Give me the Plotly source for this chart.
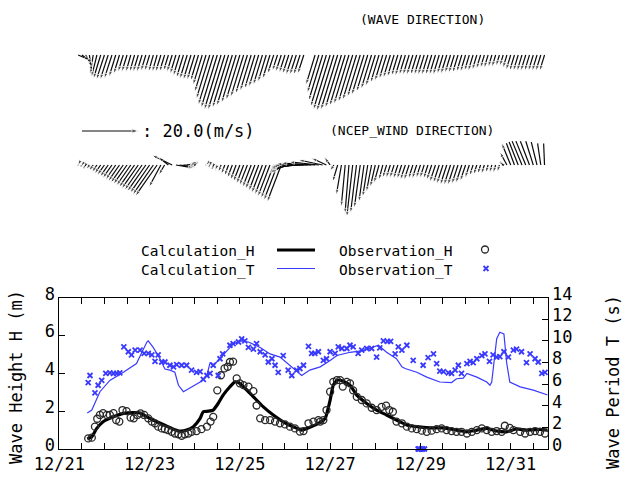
import numpy as np
import pandas as pd
import plotly.graph_objects as go

nan = float("nan")

# ---------------------------------------------------------------- data
# time is given in days since 12/21 00:00
BASE = pd.Timestamp("2006-12-21 00:00")

calc_h_day = [0.62, 0.72, 0.83, 0.97, 1.20, 1.42, 1.64, 1.79, 1.94, 2.16, 2.38, 2.53, 2.67, 2.82,
              2.97, 3.12, 3.19, 3.30, 3.41, 3.52, 3.63, 3.78, 3.89, 3.97, 4.08, 4.30, 4.52, 4.74,
              4.96, 5.18, 5.37, 5.55, 5.78, 5.89, 6.00, 6.07, 6.16, 6.29, 6.44, 6.59, 6.81, 7.03,
              7.25, 7.47, 7.70, 7.92, 8.21, 8.51, 8.80, 9.03, 9.25, 9.47, 9.69, 9.91, 10.13, 10.35,
              10.65, 10.82]
calc_h = [0.53, 0.65, 1.09, 1.44, 1.70, 1.88, 1.92, 1.90, 1.70, 1.44, 1.21, 1.05, 0.95, 1.00,
          1.18, 1.62, 1.97, 2.00, 2.06, 2.41, 2.85, 3.29, 3.55, 3.52, 3.29, 2.76, 2.23, 1.80,
          1.44, 1.18, 1.00, 1.15, 1.41, 1.62, 2.59, 3.38, 3.64, 3.58, 3.38, 2.85, 2.41, 2.06,
          1.80, 1.53, 1.27, 1.18, 1.12, 1.12, 1.00, 0.91, 1.00, 1.09, 0.95, 0.91, 1.06, 1.00,
          1.04, 1.00]

obs_h_day = [0.64, 0.72, 0.79, 0.84, 0.90, 0.97, 1.05, 1.12, 1.20, 1.26, 1.33, 1.40, 1.49, 1.58,
             1.65, 1.73, 1.80, 1.88, 1.97, 2.05, 2.12, 2.19, 2.27, 2.34, 2.41, 2.49, 2.56, 2.64,
             2.71, 2.78, 2.86, 2.93, 3.04, 3.15, 3.27, 3.35, 3.41, 3.50, 3.58, 3.66, 3.73, 3.78,
             3.85, 3.93, 4.00, 4.08, 4.19, 4.30, 4.37, 4.45, 4.56, 4.67, 4.78, 4.89, 5.00, 5.11,
             5.22, 5.33, 5.41, 5.52, 5.63, 5.74, 5.78, 5.85, 5.92, 6.00, 6.07, 6.15, 6.22, 6.28,
             6.37, 6.44, 6.51, 6.59, 6.70, 6.81, 6.92, 7.03, 7.14, 7.24, 7.31, 7.39, 7.47, 7.59,
             7.70, 7.81, 7.92, 8.03, 8.14, 8.25, 8.36, 8.47, 8.58, 8.69, 8.80, 8.91, 9.03, 9.14,
             9.25, 9.36, 9.47, 9.58, 9.69, 9.80, 9.87, 9.98, 10.06, 10.21, 10.32, 10.43, 10.54,
             10.65, 10.76, 10.83]
obs_h = [0.56, 0.60, 1.18, 1.60, 1.80, 1.90, 1.80, 1.80, 1.90, 1.53, 1.45, 2.06, 2.00, 1.66,
         1.62, 1.80, 1.88, 1.80, 1.62, 1.45, 1.36, 1.18, 1.09, 1.05, 1.00, 0.91, 0.82, 0.78,
         0.70, 0.78, 0.82, 0.91, 0.95, 1.05, 1.18, 1.45, 1.70, 3.10, 3.90, 4.26, 4.35, 4.60,
         4.62, 3.73, 3.47, 3.38, 3.30, 3.06, 2.30, 1.62, 1.53, 1.53, 1.45, 1.36, 1.30, 1.18,
         1.09, 0.92, 0.95, 1.36, 1.45, 1.53, 1.45, 1.53, 2.06, 3.03, 3.55, 3.64, 3.64, 3.30,
         3.55, 3.47, 3.10, 2.76, 2.59, 2.41, 2.18, 2.06, 2.23, 2.29, 2.06, 1.97, 1.45, 1.36,
         1.18, 1.09, 1.05, 0.97, 0.91, 0.97, 1.05, 1.09, 1.00, 0.95, 0.91, 0.91, 0.82, 0.91,
         1.00, 1.09, 1.00, 0.91, 0.95, 0.91, 1.23, 1.12, 1.00, 0.91, 0.82, 0.91, 0.95,
         0.91, 0.82, 0.65]

calc_t_day = [0.62, 0.72, 0.90, 1.12, 1.42, 1.71, 1.94, 1.97, 2.08, 2.23, 2.34, 2.45, 2.56, 2.64,
              2.75, 2.93, 3.12, 3.27, 3.34, 3.41, 3.56, 3.71, 3.85, 4.00, 4.19, 4.45, 4.67, 4.89,
              5.11, 5.37, 5.55, 5.78, 6.00, 6.15, 6.44, 6.73, 7.07, 7.25, 7.47, 7.59, 7.66, 7.92,
              8.14, 8.43, 8.69, 8.80, 8.95, 9.03, 9.25, 9.47, 9.54, 9.58, 9.69, 9.76, 9.85, 9.91,
              9.98, 10.21, 10.50, 10.82]
calc_t = [3.34, 3.60, 5.30, 6.35, 7.10, 7.90, 9.90, 10.00, 9.40, 8.35, 7.40, 7.30, 7.10, 5.90,
          5.30, 5.70, 6.20, 6.80, 8.00, 7.70, 8.35, 9.10, 9.70, 10.00, 9.90, 9.40, 8.80, 8.50,
          7.70, 6.80, 7.30, 7.60, 8.20, 8.65, 8.95, 9.10, 9.60, 8.95, 8.35, 7.60, 7.45, 7.10,
          6.65, 6.20, 6.15, 6.50, 6.55, 7.00, 6.65, 6.20, 5.90, 6.20, 10.20, 10.80, 10.65, 8.00,
          6.20, 5.75, 5.45, 5.00]

obs_t_day = [0.64, 0.68, 0.79, 0.86, 0.94, 1.03, 1.12, 1.20, 1.27, 1.34, 1.43, 1.53, 1.60, 1.68,
             1.79, 1.88, 1.97, 2.05, 2.12, 2.19, 2.27, 2.34, 2.45, 2.53, 2.60, 2.71, 2.82, 2.93,
             3.04, 3.12, 3.19, 3.27, 3.34, 3.41, 3.52, 3.56, 3.62, 3.78, 3.85, 3.97, 4.04, 4.11,
             4.19, 4.30, 4.37, 4.45, 4.56, 4.63, 4.71, 4.78, 4.85, 4.96, 5.07, 5.15, 5.26, 5.33,
             5.41, 5.52, 5.59, 5.66, 5.74, 5.85, 5.92, 6.00, 6.11, 6.18, 6.26, 6.37, 6.44, 6.51,
             6.62, 6.70, 6.81, 6.92, 7.03, 7.10, 7.18, 7.27, 7.34, 7.44, 7.51, 7.59, 7.70, 7.84,
             7.95, 7.98, 8.02, 8.05, 8.09,
             8.06, 8.17, 8.29, 8.36, 8.43, 8.51, 8.62, 8.69, 8.77, 8.84, 8.91, 9.03, 9.10, 9.17,
             9.25, 9.36, 9.43, 9.53, 9.61, 9.69, 9.76, 9.85, 9.95, 10.06, 10.13, 10.24, 10.35,
             10.43, 10.54, 10.61, 10.69, 10.76]
obs_t = [6.15, 6.80, 5.20, 5.90, 6.35, 7.00, 7.05, 7.00, 7.00, 7.05, 9.45, 9.00, 8.70, 9.15,
         9.15, 8.85, 8.85, 8.70, 8.10, 8.70, 8.05, 8.05, 7.75, 7.60, 7.80, 7.75, 7.75, 7.30,
         7.10, 7.15, 6.45, 6.80, 7.00, 7.75, 6.80, 8.35, 8.80, 9.60, 9.75, 9.90, 10.20, 10.00,
         9.40, 9.25, 9.75, 9.00, 8.70, 8.05, 8.35, 7.75, 7.10, 8.65, 7.30, 6.80, 7.30, 7.45,
         7.75, 9.50, 8.85, 8.85, 9.00, 8.20, 8.35, 9.00, 8.85, 9.45, 9.30, 9.30, 9.60, 9.45,
         8.85, 9.15, 9.30, 9.30, 8.50, 9.35, 10.00, 9.95, 9.95, 8.80, 9.45, 9.15, 9.60, 8.20,
         0.0, 0.0, 0.0, 0.0, 0.0,
         7.75, 8.45, 8.80, 7.90, 7.20, 7.15, 7.05, 7.00, 7.30, 7.75, 7.00, 7.90, 8.10, 8.00,
         8.35, 8.65, 8.80, 8.10, 8.70, 8.50, 8.55, 9.00, 8.50, 9.15, 9.25, 9.00, 8.00,
         8.80, 8.35, 8.05, 7.00, 7.10]

# direction panels: one arrow every 2 hours from 12/21 10:00
ARROW_START = pd.Timestamp("2006-12-21 10:00")
N_ARROWS = 125

# observed wave: height (m) and direction the waves travel toward (deg from north)
wave_h = [0.87, 0.90, 0.93, 1.13, 1.33, 1.53,
          1.67, 1.74, 1.74, 1.67, 1.53, 1.32,
          1.18, 1.18, 1.18, 1.18, 1.18, 1.18, 1.12, 1.12, 1.18, 1.18, 1.18, 1.18, 1.12, 1.18,
          1.32, 1.46, 1.60, 1.67, 1.74, 1.74, 1.81,
          2.09, 2.58, 3.07, 3.49, 3.69, 3.83, 3.83, 3.69, 3.55, 3.35, 3.14, 2.93, 2.72, 2.51,
          2.37, 2.23, 2.09, 1.88, 1.67, 1.32, 1.12,
          1.18, 1.25, 1.32, 1.39, 1.39, 1.39, 1.32,
          nan, nan,
          2.09, 2.65, 3.20, 3.62, 3.83, 3.90, 3.83, 3.69, 3.55, 3.42, 3.28, 3.14, 2.93, 2.79,
          2.58, 2.37, 2.16, 1.95, 1.81, 1.67,
          1.60, 1.53, 1.46, 1.46, 1.39, 1.39, 1.39, 1.39, 1.39, 1.39, 1.39, 1.39, 1.39, 1.39,
          1.32, 1.32, 1.25, 1.25, 1.25, 1.18, 1.18, 1.12, 1.12, 1.05, 0.98, 0.91, 0.91, 0.84,
          0.84, 0.77, 0.77,
          0.91, 1.05, 1.12, 1.12, 1.12, 1.12, 1.12, 1.12, 1.12, 1.12, 1.12]
wave_dir = [113, 126, 150, 172, 188, 194,
            197, 198, 198, 198, 197, 197,
            197, 197, 196, 196, 197, 197, 197, 197, 196, 196, 197, 197, 197, 197,
            197, 197, 197, 197, 197, 197, 197,
            197, 197, 197, 197, 197, 197, 197, 197, 197, 197, 197, 197, 197, 197,
            197, 197, 197, 197, 197, 198, 198,
            198, 198, 198, 198, 198, 198, 198,
            nan, nan,
            197, 197, 197, 197, 197, 197, 197, 197, 197, 197, 197, 197, 197, 197,
            197, 197, 197, 197, 197, 197,
            197, 197, 197, 197, 197, 197, 197, 197, 197, 197, 197, 197, 197, 197,
            197, 197, 197, 197, 197, 197, 197, 197, 197, 197, 197, 197, 197, 197,
            197, 197, 197,
            197, 197, 197, 197, 197, 197, 197, 197, 197, 197, 197]

# NCEP wind components (m/s): u toward east, v toward north
wind_u = [-0.1, -0.4, -0.7, -1.1, -1.5, -1.8, -2.2, -2.6, -2.9, -3.3, -3.6, -4.0, -4.4, -4.8,
          -5.1, -5.5, -5.9, -6.2, -6.6, -6.9, -7.3, -7.7,
          -4.2, -2.1, -3.5, -7.1, 6.4, 5.7, 4.6, 3.5, 2.5, 1.1,
          nan, nan,
          -0.1, -0.3, -0.5, -0.8, -1.0, -1.3, -1.5, -1.8, -2.0, -2.3, -2.5, -2.8, -3.0, -3.3,
          -3.5, -3.8, -4.0, -4.3, -4.5, -4.8, -5.0,
          -5.3, -6.4, -7.8, -9.2, -10.6, -11.3, -12.0, -12.4, -12.0, -10.6, -8.5, -5.3, -2.1,
          -1.4, -1.8, -1.8, -1.4, -1.4, -2.1, -2.1, -2.1, -1.8, -1.8, -1.8, -1.8, -1.8, -1.4, -1.4,
          -1.5, -1.5, -1.6, -1.6, -1.8, -1.8, -1.6, -1.6, -1.5, -1.5, -1.6, -1.8, -2.0, -2.1,
          -2.2, -2.3, -2.3, -2.3, -2.2, -2.1, -1.9, -1.5, -1.3, -1.2, -1.1, -1.1, -0.9, -0.9,
          -0.9, -0.8,
          -1.1, -2.5, -3.2, -3.5, -3.9, -4.2, -4.2, -3.9, -3.2, -2.5, -1.4, -0.4]
wind_v = [-0.2, -0.5, -1.1, -1.6, -2.1, -2.6, -3.1, -3.6, -4.2, -4.7, -5.2, -5.8, -6.3, -6.8,
          -7.3, -7.9, -8.4, -8.9, -9.4, -9.9, -10.5, -11.0,
          -7.8, -3.5, 2.8, 3.5, -1.1, -0.7, 0.0, 0.7, 1.4, 1.1,
          nan, nan,
          -0.1, -0.7, -1.3, -2.0, -2.6, -3.3, -3.9, -4.6, -5.3, -5.9, -6.6, -7.2, -7.9, -8.5,
          -9.2, -9.9, -10.5, -11.2, -11.8, -12.5, -13.1,
          -2.8, -2.1, -1.4, -1.1, -0.7, -0.4, 0.0, 0.4, 0.7, 1.1, 1.8, 2.5, 2.8,
          -2.1, -6.0, -10.6, -14.8, -17.3, -18.4, -17.0, -15.2, -13.1, -11.3, -9.5, -7.8, -6.4,
          -5.3, -4.6,
          -4.6, -4.6, -4.9, -4.9, -5.3, -5.3, -4.9, -4.9, -4.6, -4.6, -4.9, -5.3, -6.0, -6.4,
          -6.7, -7.1, -7.1, -7.1, -6.7, -6.4, -5.7, -4.6, -3.9, -3.5, -3.2, -3.2, -2.8, -2.8,
          -2.8, -2.5,
          1.1, 4.6, 7.8, 9.5, 9.9, 10.2, 10.2, 10.2, 10.2, 9.9, 9.5, 9.5]

KEY_SPEED = 20.0  # reference arrow (m/s)

# ---------------------------------------------------------------- geometry
W, H = 624, 481
PLOT_L, PLOT_R, PLOT_T, PLOT_B = 59.3, 547.7, 297.7, 449.0
X_SPAN_DAYS = 10.82
PX_PER_DAY = (PLOT_R - PLOT_L) / X_SPAN_DAYS
WAVE_PX_PER_M = 15.0
WIND_PX_PER_MS = 2.83
WAVE_BASE, WAVE_TOP, WAVE_BOT = 55.0, 10.0, 125.0
WIND_BASE, WIND_TOP, WIND_BOT = 165.0, 140.0, 235.0

MONO = "DejaVu Sans Mono"
BLUE = "rgb(58,58,255)"
INK = "rgb(10,10,10)"


def fx(px):
    return px / W


def fy(px):
    return 1.0 - px / H


def t(days):
    return [(BASE + pd.Timedelta(days=float(d))).isoformat() for d in days]


X_RANGE = [BASE.isoformat(), (BASE + pd.Timedelta(days=X_SPAN_DAYS)).isoformat()]
arrow_times = pd.date_range(ARROW_START, periods=N_ARROWS, freq="2h")


def quiver(u, v, px_per_unit):
    """Segments from a baseline at y=0, with head markers at the tips."""
    xs, ys, sizes = [], [], []
    for t0, du, dv in zip(arrow_times, u, v):
        if np.isnan(du) or np.isnan(dv):
            continue
        t1 = t0 + pd.Timedelta(days=du * px_per_unit / PX_PER_DAY)
        xs += [t0.isoformat(), t1.isoformat(), None]
        ys += [0.0, dv, None]
        sizes += [0, 6, 0]
    return xs, ys, sizes


fig = go.Figure()

# bottom panel
fig.add_trace(go.Scatter(x=t(calc_h_day), y=calc_h, mode="lines", xaxis="x", yaxis="y",
                         line=dict(color="black", width=3.2, shape="spline", smoothing=0.5)))
fig.add_trace(go.Scatter(x=t(obs_h_day), y=obs_h, mode="markers", xaxis="x", yaxis="y",
                         marker=dict(symbol="circle-open", size=7, color="rgb(40,40,40)",
                                     line=dict(width=1.3)), cliponaxis=False))
fig.add_trace(go.Scatter(x=t(calc_t_day), y=calc_t, mode="lines", xaxis="x", yaxis="y2",
                         line=dict(color=BLUE, width=1.2)))
fig.add_trace(go.Scatter(x=t(obs_t_day), y=obs_t, mode="markers", xaxis="x", yaxis="y2",
                         marker=dict(symbol="x-thin-open", size=5, color=BLUE,
                                     line=dict(width=1.8, color=BLUE)), cliponaxis=False))

# wave direction arrows
wu = [h * np.sin(np.radians(d)) for h, d in zip(wave_h, wave_dir)]
wv = [h * np.cos(np.radians(d)) for h, d in zip(wave_h, wave_dir)]
xs, ys, sz = quiver(wu, wv, WAVE_PX_PER_M)
fig.add_trace(go.Scatter(x=xs, y=ys, mode="lines+markers", xaxis="x2", yaxis="y3",
                         line=dict(color=INK, width=1.2),
                         marker=dict(symbol="arrow", size=sz, angleref="previous", color=INK),
                         cliponaxis=False))

# wind direction arrows
xs, ys, sz = quiver(wind_u, wind_v, WIND_PX_PER_MS)
fig.add_trace(go.Scatter(x=xs, y=ys, mode="lines+markers", xaxis="x3", yaxis="y4",
                         line=dict(color=INK, width=1.2),
                         marker=dict(symbol="arrow", size=sz, angleref="previous", color=INK),
                         cliponaxis=False))

# overlay in pixel units: legend samples and the speed key
key_x0, key_y = 82.0, 131.0
key_len = KEY_SPEED * WIND_PX_PER_MS
fig.add_trace(go.Scatter(x=[key_x0, key_x0 + key_len], y=[key_y, key_y], mode="lines+markers",
                         xaxis="x4", yaxis="y5", line=dict(color=INK, width=1),
                         marker=dict(symbol="arrow", size=[0, 7], angleref="previous",
                                     color=INK),
                         cliponaxis=False))
fig.add_trace(go.Scatter(x=[277, 315], y=[250, 250], mode="lines", xaxis="x4", yaxis="y5",
                         line=dict(color="black", width=3.2)))
fig.add_trace(go.Scatter(x=[277, 315], y=[268.5, 268.5], mode="lines", xaxis="x4", yaxis="y5",
                         line=dict(color=BLUE, width=1.2)))
fig.add_trace(go.Scatter(x=[485], y=[249.5], mode="markers", xaxis="x4", yaxis="y5",
                         marker=dict(symbol="circle-open", size=7, color="rgb(40,40,40)",
                                     line=dict(width=1.3))))
fig.add_trace(go.Scatter(x=[486], y=[268.5], mode="markers", xaxis="x4", yaxis="y5",
                         marker=dict(symbol="x-thin-open", size=5, color=BLUE,
                                     line=dict(width=1.8, color=BLUE))))


def txt(s, x, y, size, anchor="center", angle=0):
    return dict(text=s, x=fx(x), y=fy(y), xref="paper", yref="paper", showarrow=False,
                xanchor=anchor, yanchor="middle", textangle=angle,
                font=dict(family=MONO, size=size, color="black"))


annotations = [
    txt("(WAVE DIRECTION)", 422, 19, 13),
    txt("(NCEP_WIND DIRECTION)", 412, 130, 13),
    txt(": 20.0(m/s)", 140, 131, 17, "left"),
    txt("Calculation_H", 257, 251, 14.5, "right"),
    txt("Observation_H", 455, 251, 14.5, "right"),
    txt("Calculation_T", 257, 270, 14.5, "right"),
    txt("Observation_T", 455, 270, 14.5, "right"),
    txt("Wave Height H (m)", 16, 377, 17, angle=-90),
    txt("Wave Period T (s)", 613, 382, 17, angle=-90),
]

hidden = dict(visible=False, showgrid=False, zeroline=False, automargin=False)
tickstyle = dict(ticks="inside", ticklen=6, tickwidth=1, tickcolor="black", showline=True,
                 linecolor="black", linewidth=1, showgrid=False, zeroline=False,
                 automargin=False, tickfont=dict(family=MONO, size=17, color="black"))

fig.update_layout(
    width=W, height=H, margin=dict(l=0, r=0, t=0, b=0, autoexpand=False),
    paper_bgcolor="white", plot_bgcolor="rgba(0,0,0,0)", showlegend=False,
    font=dict(family=MONO, color="black"),
    xaxis=dict(domain=[fx(PLOT_L), fx(PLOT_R)], anchor="y", type="date", range=X_RANGE,
               tick0=BASE.isoformat(), dtick=2 * 86400000, tickformat="%m/%d", mirror="ticks",
               minor=dict(dtick=43200000, ticks="inside", ticklen=6, tickcolor="black",
                          showgrid=False),
               **tickstyle),
    yaxis=dict(domain=[fy(PLOT_B), fy(PLOT_T)], anchor="x", range=[0, 8], dtick=2,
               ticklabelshift=-4, **tickstyle),
    yaxis2=dict(overlaying="y", side="right", anchor="x", range=[0, 14], dtick=2,
                ticklabelshift=-4, **tickstyle),
    xaxis2=dict(domain=[fx(PLOT_L), fx(PLOT_R)], anchor="y3", type="date", range=X_RANGE, **hidden),
    yaxis3=dict(domain=[fy(WAVE_BOT), fy(WAVE_TOP)], anchor="x2",
                range=[-(WAVE_BOT - WAVE_BASE) / WAVE_PX_PER_M, (WAVE_BASE - WAVE_TOP) / WAVE_PX_PER_M],
                **hidden),
    xaxis3=dict(domain=[fx(PLOT_L), fx(PLOT_R)], anchor="y4", type="date", range=X_RANGE, **hidden),
    yaxis4=dict(domain=[fy(WIND_BOT), fy(WIND_TOP)], anchor="x3",
                range=[-(WIND_BOT - WIND_BASE) / WIND_PX_PER_MS, (WIND_BASE - WIND_TOP) / WIND_PX_PER_MS],
                **hidden),
    xaxis4=dict(domain=[0, 1], anchor="y5", range=[0, W], **hidden),
    yaxis5=dict(domain=[0, 1], anchor="x4", range=[H, 0], **hidden),
    annotations=annotations,
)

fig.write_html("out.html")
